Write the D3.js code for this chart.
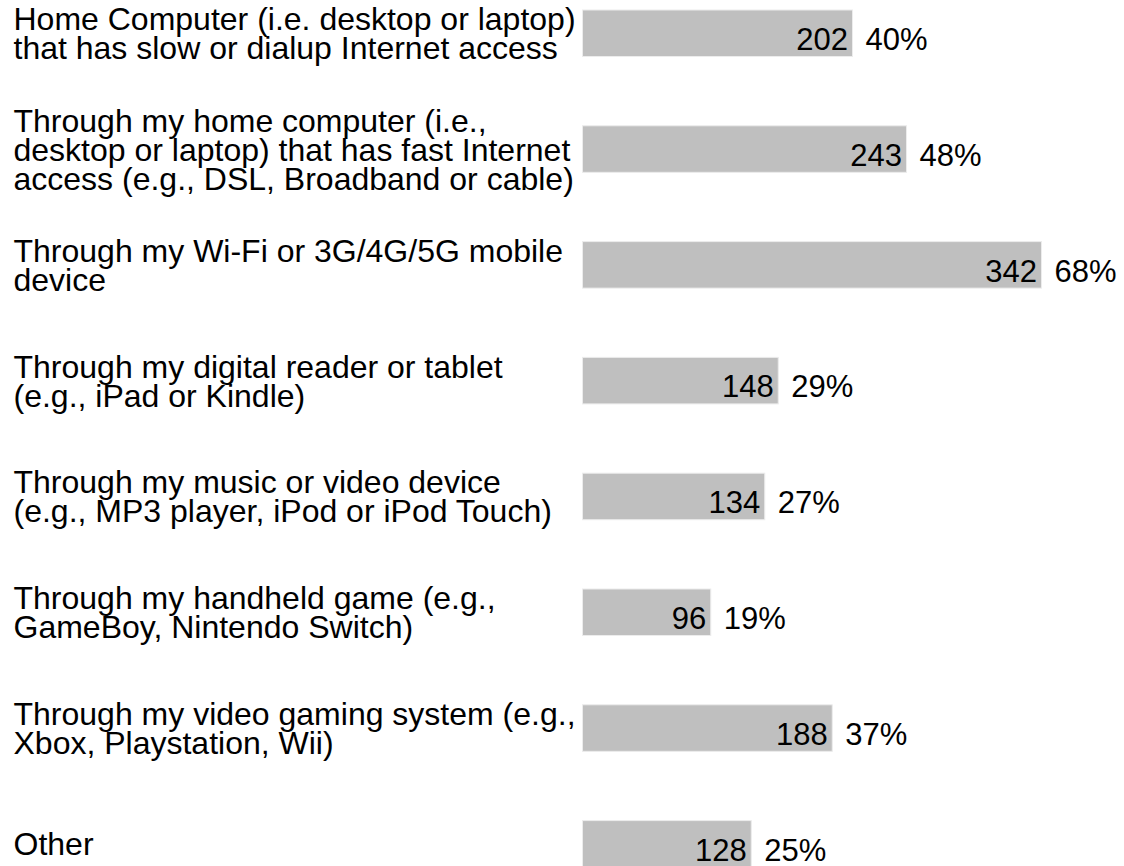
<!DOCTYPE html>
<html>
<head>
<meta charset="utf-8">
<script src="https://cdn.jsdelivr.net/npm/d3@7/dist/d3.min.js"></script>
<style>
  html, body { margin: 0; padding: 0; background: #fff; }
  svg { display: block; }
  text { font-family: "Liberation Sans", Arial, Helvetica, sans-serif; fill: #000; }
</style>
</head>
<body>
<svg id="chart" width="1124" height="866"></svg>
<script>
const categories = [
  ["Home Computer (i.e. desktop or laptop)", "that has slow or dialup Internet access"],
  ["Through my home computer (i.e.,", "desktop or laptop) that has fast Internet", "access (e.g., DSL, Broadband or cable)"],
  ["Through my Wi-Fi or 3G/4G/5G mobile", "device"],
  ["Through my digital reader or tablet", "(e.g., iPad or Kindle)"],
  ["Through my music or video device", "(e.g., MP3 player, iPod or iPod Touch)"],
  ["Through my handheld game (e.g.,", "GameBoy, Nintendo Switch)"],
  ["Through my video gaming system (e.g.,", "Xbox, Playstation, Wii)"],
  ["Other"]
];
const counts = [202, 243, 342, 148, 134, 96, 188, 128];
const percents = [40, 48, 68, 29, 27, 19, 37, 25];

const data = categories.map((c, i) => ({ key: i, lines: c, count: counts[i], pct: percents[i] }));

const svg = d3.select("#chart");
const barLeft = 582.5;
const labelSize = 32;
const valueSize = 31;
const lineH = 29;

const x = d3.scaleLinear().domain([0, 100]).range([0, 675]);
const y = d3.scaleBand()
  .domain(data.map(d => d.key))
  .range([10, 10 + 7 * 115.8 + 46.5])
  .paddingInner(1 - 46.5 / 115.8)
  .paddingOuter(0)
  .align(0);

const rows = svg.selectAll("g.row").data(data).enter().append("g").attr("class", "row");

rows.append("rect")
  .attr("x", barLeft)
  .attr("y", d => y(d.key))
  .attr("width", d => x(d.pct))
  .attr("height", y.bandwidth())
  .attr("fill", "#bfbfbf")
  .attr("stroke", "#ececec")
  .attr("stroke-width", 1);

rows.append("text")
  .attr("x", d => barLeft + x(d.pct) - 4.5)
  .attr("y", d => y(d.key) + y.bandwidth() - 6.5)
  .attr("text-anchor", "end")
  .style("font-size", valueSize + "px")
  .text(d => d.count);

rows.append("text")
  .attr("x", d => barLeft + x(d.pct) + 13)
  .attr("y", d => y(d.key) + y.bandwidth() - 6.5)
  .style("font-size", valueSize + "px")
  .text(d => d.pct + "%");

rows.each(function(d) {
  const g = d3.select(this);
  const cy = y(d.key) + y.bandwidth() / 2;
  const n = d.lines.length;
  const t = g.append("text")
    .attr("x", 13.5)
    .style("font-size", labelSize + "px");
  d.lines.forEach((ln, j) => {
    t.append("tspan")
      .attr("x", 13.5)
      .attr("y", cy + (j - (n - 1) / 2) * lineH + labelSize * 0.36)
      .text(ln);
  });
});
</script>
</body>
</html>
